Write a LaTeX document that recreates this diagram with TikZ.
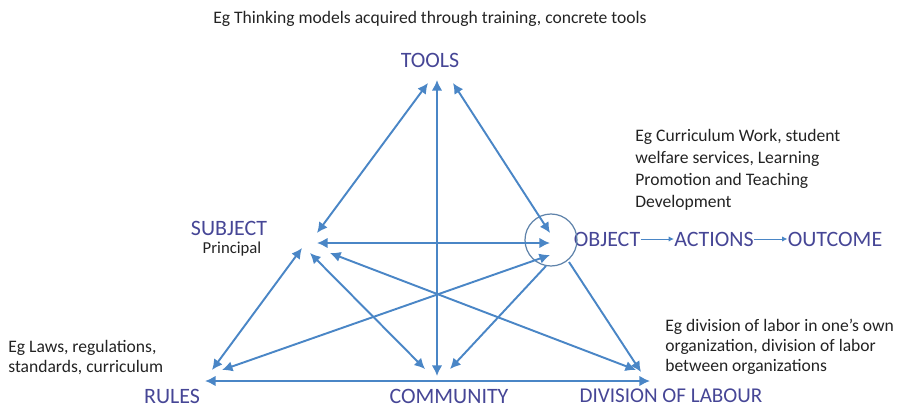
\documentclass[tikz,border=0pt]{standalone}
\usepackage{fontspec}
\setmainfont{Carlito}
\usetikzlibrary{arrows.meta}
\definecolor{arrowblue}{RGB}{74,134,198}
\definecolor{labelblue}{RGB}{70,70,150}
\definecolor{notegray}{RGB}{35,35,35}
\begin{document}
\begin{tikzpicture}[x=0.02cm, y=-0.02cm,
	link/.style={arrowblue, line width=1.1pt, {Latex[length=6pt,width=6pt]}-{Latex[length=6pt,width=6pt]}},
	onelink/.style={arrowblue, line width=1.1pt, -{Latex[length=6pt,width=6pt]}},
	thinlink/.style={arrowblue, line width=0.5pt, -{Latex[length=3pt,width=3pt]}},
	lbl/.style={labelblue, font=\fontsize{12.5}{14}\selectfont, inner sep=0pt},
	note/.style={notegray, font=\fontsize{10}{12.5}\selectfont, align=left, inner sep=0pt, anchor=north west}]
	
	\useasboundingbox (0,0) rectangle (897,406);
	
	% labels
	\node[lbl] (tools) at (430,60) {TOOLS};
	\node[lbl] (subject) at (229,228) {SUBJECT};
	\node[notegray, font=\fontsize{9.5}{11}\selectfont, inner sep=0pt] (principal) at (232,249) {Principal};
	\node[lbl] (object) at (607,239) {OBJECT};
	\node[lbl] (actions) at (714,239) {ACTIONS};
	\node[lbl] (outcome) at (835,239) {OUTCOME};
	\node[lbl] (rules) at (172,396) {RULES};
	\node[lbl] (community) at (449,396) {COMMUNITY};
	\node[lbl, font=\fontsize{12}{14}\selectfont] (division) at (671,396) {DIVISION OF LABOUR};
	
	% notes
	\node[notegray, font=\fontsize{10}{12}\selectfont, inner sep=0pt] (toolsnote) at (430,19) {Eg Thinking models acquired through training, concrete tools};
	\node[note] (objectnote) at (635,129) {Eg Curriculum Work, student\\welfare services, Learning\\Promotion and Teaching\\Development};
	\node[note, font=\fontsize{10}{11.3}\selectfont] (rulesnote) at (8,340) {Eg Laws, regulations,\\standards, curriculum};
	\node[note, font=\fontsize{10}{11.3}\selectfont] (divisionnote) at (665,319) {Eg division of labor in one's own\\organization, division of labor\\between organizations};
	
	% end points
	\coordinate (T1) at (428,83);
	\coordinate (T2) at (437,80);
	\coordinate (T3) at (453,83);
	\coordinate (S1) at (317,233);
	\coordinate (S2) at (317,243);
	\coordinate (S3) at (302,248);
	\coordinate (S4) at (310,253);
	\coordinate (S5) at (330,253);
	\coordinate (O1) at (550,233);
	\coordinate (O2) at (550,243);
	\coordinate (O3) at (550,255);
	\coordinate (O4) at (546,266);
	\coordinate (O5) at (569,262);
	\coordinate (R1) at (212,370);
	\coordinate (R2) at (222,370);
	\coordinate (R3) at (205,381);
	\coordinate (C1) at (425,369);
	\coordinate (C2) at (437,376);
	\coordinate (C3) at (450,369);
	\coordinate (D1) at (636,370);
	\coordinate (D2) at (641,372);
	\coordinate (D3) at (650,381);
	
	\draw[arrowblue!60!gray, line width=0.7pt] (551,240) circle (26);
	
	\draw[link] (T1) -- (S1);
	\draw[link] (T2) -- (C2);
	\draw[link] (T3) -- (O1);
	\draw[link] (S2) -- (O2);
	\draw[link] (S3) -- (R1);
	\draw[link] (S4) -- (C1);
	\draw[link] (S5) -- (D1);
	\draw[link] (O3) -- (R2);
	\draw[onelink] (O4) -- (C3);
	\draw[onelink] (O5) -- (D2);
	\draw[link] (R3) -- (D3);
	
	\draw[thinlink] (object) -- (actions);
	\draw[thinlink] (actions) -- (outcome);
\end{tikzpicture}
\end{document}
